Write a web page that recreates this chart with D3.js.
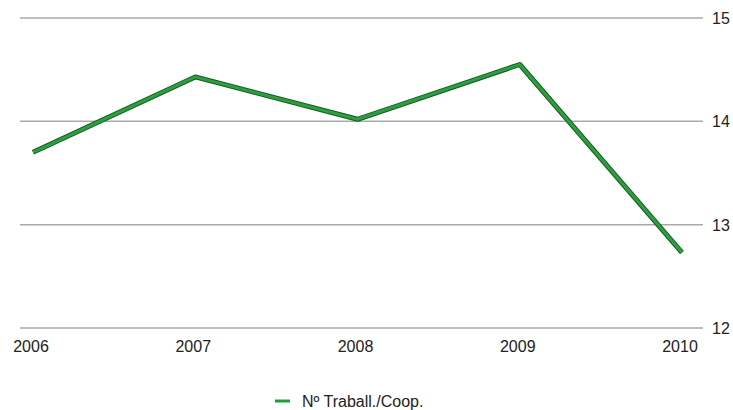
<!DOCTYPE html>
<html>
<head>
<meta charset="utf-8">
<script src="https://cdn.jsdelivr.net/npm/d3@7"></script>
<style>
  html, body { margin: 0; padding: 0; background: #fff; }
  svg { display: block; font-family: "Liberation Sans", Arial, Helvetica, sans-serif; }
</style>
</head>
<body>
<svg id="chart" width="733" height="410"></svg>
<script>
// Workers per cooperative, 2006–2010
const years = ["2006", "2007", "2008", "2009", "2010"];
const workers = [13.70, 14.43, 14.02, 14.55, 12.73];
const yTicks = [12, 13, 14, 15];
const seriesName = "Nº Traball./Coop.";

const svg = d3.select("#chart");

const x = d3.scalePoint().domain(years).range([33, 682]);
const y = d3.scaleLinear().domain([12, 15]).range([328, 18]);

// Horizontal grid lines with value labels on the right
const grid = svg.append("g");
grid.selectAll("line")
  .data(yTicks)
  .join("line")
  .attr("x1", 20).attr("x2", 703)
  .attr("y1", d => y(d)).attr("y2", d => y(d))
  .attr("stroke", "#a9a9a9")
  .attr("stroke-width", 1.5);

grid.selectAll("text")
  .data(yTicks)
  .join("text")
  .attr("x", 712)
  .attr("y", d => y(d) + 6)
  .attr("font-size", 16)
  .attr("fill", "#222")
  .text(d => d);

// Year labels along the bottom
svg.append("g").selectAll("text")
  .data(years)
  .join("text")
  .attr("x", d => x(d) - 2)
  .attr("y", 352)
  .attr("text-anchor", "middle")
  .attr("font-size", 16)
  .attr("fill", "#222")
  .text(d => d);

// Series line: dark edge with a brighter green core
const line = d3.line()
  .x((d, i) => x(years[i]))
  .y(d => y(d));

svg.append("path")
  .datum(workers)
  .attr("d", line)
  .attr("fill", "none")
  .attr("stroke", "#1b5a26")
  .attr("stroke-width", 5)
  .attr("stroke-linejoin", "round");

svg.append("path")
  .datum(workers)
  .attr("d", line)
  .attr("fill", "none")
  .attr("stroke", "#2ba03f")
  .attr("stroke-width", 3)
  .attr("stroke-linejoin", "round");

// Legend
const legend = svg.append("g");
legend.append("line")
  .attr("x1", 275).attr("x2", 290)
  .attr("y1", 401).attr("y2", 401)
  .attr("stroke", "#17a03a")
  .attr("stroke-width", 3);
legend.append("text")
  .attr("x", 302).attr("y", 407)
  .attr("font-size", 16)
  .attr("fill", "#222")
  .text(seriesName);
</script>
</body>
</html>
